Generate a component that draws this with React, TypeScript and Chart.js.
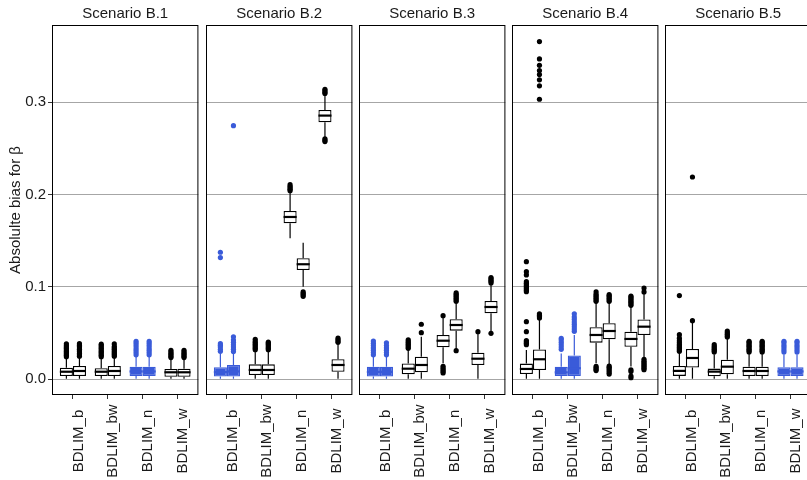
import React, { useEffect, useRef } from "react";
import { Chart, registerables } from "chart.js";

Chart.register(...registerables);

// ---- data -------------------------------------------------------------
const categories = ["BDLIM_b", "BDLIM_bw", "BDLIM_n", "BDLIM_w"];
const scenarioTitles = ["Scenario B.1", "Scenario B.2", "Scenario B.3", "Scenario B.4", "Scenario B.5"];
// model that generated the data in each scenario (drawn in blue)
const trueModel = ["BDLIM_n", "BDLIM_b", "BDLIM_b", "BDLIM_bw", "BDLIM_w"];
const yTicks = [0, 0.1, 0.2, 0.3];
const yTitle = "Absolulte bias for β";

// box statistics per category: [lower whisker, Q1, median, Q3, upper whisker]
// "_1" = first box of each dodged pair, "_2" = second box
const statsB1_1 = [
  [0.0005, 0.0036, 0.0082, 0.0126, 0.024],
  [0.0005, 0.0036, 0.0082, 0.0119, 0.024],
  [0.0005, 0.0036, 0.0085, 0.0136, 0.026],
  [0.0005, 0.0028, 0.0076, 0.0112, 0.022],
];
const statsB1_2 = [
  [0.0005, 0.0036, 0.009, 0.0144, 0.025],
  [0.0005, 0.0036, 0.009, 0.0144, 0.025],
  [0.0005, 0.0036, 0.0085, 0.0136, 0.026],
  [0.0005, 0.0028, 0.0076, 0.0114, 0.022],
];
const outB1_1 = [
  [0.0245, 0.026, 0.0275, 0.029, 0.0305, 0.032, 0.0335, 0.035, 0.0365, 0.0385],
  [0.0245, 0.026, 0.0275, 0.029, 0.0305, 0.032, 0.0335, 0.035, 0.0365, 0.038],
  [0.0265, 0.029, 0.0315, 0.034, 0.0365, 0.039, 0.0412],
  [0.0235, 0.025, 0.0265, 0.028, 0.0295, 0.0314],
];
const outB1_2 = [
  [0.025, 0.0265, 0.028, 0.0295, 0.031, 0.0325, 0.034, 0.0355, 0.037, 0.0386],
  [0.025, 0.0265, 0.028, 0.0295, 0.031, 0.0325, 0.034, 0.0355, 0.0383],
  [0.0265, 0.029, 0.0315, 0.034, 0.0365, 0.039, 0.0412],
  [0.0235, 0.025, 0.0265, 0.028, 0.0295, 0.0314],
];

const statsB2_1 = [
  [0.0005, 0.003, 0.0078, 0.013, 0.028],
  [0.0005, 0.0047, 0.0101, 0.0162, 0.0305],
  [0.1528, 0.169, 0.1758, 0.1824, 0.2025],
  [0.2625, 0.2784, 0.2856, 0.2917, 0.308],
];
const statsB2_2 = [
  [0.0005, 0.003, 0.0085, 0.0155, 0.028],
  [0.0005, 0.0047, 0.0101, 0.0162, 0.0305],
  [0.1003, 0.1184, 0.1246, 0.1311, 0.148],
  [0.0005, 0.0082, 0.0155, 0.0217, 0.038],
];
const outB2_1 = [
  [0.0303, 0.0325, 0.035, 0.0368, 0.0386, 0.1318, 0.1376],
  [0.032, 0.0335, 0.035, 0.0365, 0.038, 0.0395, 0.041, 0.0433],
  [0.2043, 0.2058, 0.2073, 0.2088, 0.2108],
  [0.2575, 0.259, 0.2605, 0.3095, 0.311, 0.3125, 0.3141],
];
const outB2_2 = [
  [0.030, 0.0325, 0.035, 0.0375, 0.040, 0.0425, 0.046, 0.2747],
  [0.032, 0.0335, 0.035, 0.0365, 0.038, 0.0393, 0.0404],
  [0.0899, 0.0915, 0.093, 0.0946],
  [0.040, 0.0415, 0.043, 0.0447],
];

const statsB3_1 = [
  [0.0005, 0.0029, 0.008, 0.0137, 0.025],
  [0.0005, 0.0054, 0.0115, 0.0171, 0.032],
  [0.0173, 0.0347, 0.0418, 0.048, 0.0675],
  [0.0005, 0.0155, 0.0223, 0.0288, 0.049],
];
const statsB3_2 = [
  [0.0005, 0.0029, 0.008, 0.0137, 0.025],
  [0.0005, 0.0076, 0.0155, 0.0245, 0.046],
  [0.0325, 0.0527, 0.0588, 0.065, 0.082],
  [0.051, 0.0715, 0.0783, 0.0848, 0.1025],
];
const outB3_1 = [
  [0.0265, 0.029, 0.0315, 0.034, 0.0365, 0.039, 0.0415],
  [0.0335, 0.035, 0.0365, 0.038, 0.0395, 0.041, 0.0428],
  [0.0068, 0.0085, 0.0102, 0.012, 0.0141, 0.0689],
  [0.0516],
];
const outB3_2 = [
  [0.0265, 0.029, 0.0315, 0.034, 0.0365, 0.0396],
  [0.0505, 0.0596],
  [0.031, 0.0845, 0.086, 0.0875, 0.089, 0.0905, 0.092, 0.0935],
  [0.0498, 0.1043, 0.1058, 0.1073, 0.1088, 0.1102],
];

const statsB4_1 = [
  [0.0005, 0.0057, 0.0112, 0.017, 0.0317],
  [0.0005, 0.0036, 0.0075, 0.0137, 0.028],
  [0.0173, 0.0397, 0.048, 0.0563, 0.083],
  [0.014, 0.0353, 0.0437, 0.0516, 0.0785],
];
const statsB4_2 = [
  [0.0005, 0.0101, 0.0217, 0.0322, 0.065],
  [0.0005, 0.0036, 0.012, 0.0257, 0.048],
  [0.0165, 0.0433, 0.0523, 0.0607, 0.083],
  [0.024, 0.048, 0.057, 0.0647, 0.093],
];
const outB4_1 = [
  [0.0375, 0.039, 0.0405, 0.042, 0.0516, 0.0624, 0.0949, 0.0965, 0.098, 0.0995, 0.101, 0.1025, 0.104, 0.1057, 0.113, 0.1166, 0.1274],
  [0.0325, 0.035, 0.0375, 0.04, 0.0425, 0.0444],
  [0.0095, 0.011, 0.0125, 0.014, 0.0845, 0.086, 0.0875, 0.089, 0.0905, 0.092, 0.0946],
  [0.0017, 0.0035, 0.0085, 0.0103, 0.0801, 0.0816, 0.0831, 0.0846, 0.0861, 0.0876, 0.0891, 0.0902],
];
const outB4_2 = [
  [0.0665, 0.068, 0.0695, 0.071, 0.3033, 0.3178, 0.3243, 0.33, 0.3343, 0.34, 0.347, 0.3658],
  [0.052, 0.0545, 0.057, 0.0595, 0.062, 0.0648, 0.0675, 0.071],
  [0.0057, 0.0075, 0.0095, 0.0115, 0.013, 0.0144, 0.0845, 0.086, 0.0875, 0.089, 0.0905, 0.0916],
  [0.0104, 0.012, 0.0135, 0.015, 0.0165, 0.018, 0.0195, 0.0217, 0.0946, 0.0989],
];

const statsB5_1 = [
  [0.0005, 0.0037, 0.0091, 0.0144, 0.029],
  [0.0005, 0.0033, 0.0083, 0.0116, 0.027],
  [0.0005, 0.0036, 0.009, 0.0137, 0.028],
  [0.0005, 0.0036, 0.0085, 0.013, 0.027],
];
const statsB5_2 = [
  [0.0005, 0.0127, 0.0231, 0.0328, 0.062],
  [0.0005, 0.0054, 0.0137, 0.0213, 0.0445],
  [0.0005, 0.0036, 0.009, 0.0137, 0.028],
  [0.0005, 0.0036, 0.0085, 0.013, 0.027],
];
const outB5_1 = [
  [0.0303, 0.0318, 0.0333, 0.0348, 0.0363, 0.0378, 0.0398, 0.0418, 0.0445, 0.0483, 0.0907],
  [0.0296, 0.031, 0.0325, 0.034, 0.0355, 0.0375],
  [0.0296, 0.031, 0.0325, 0.034, 0.0355, 0.037, 0.0385, 0.04, 0.0412],
  [0.0296, 0.032, 0.0345, 0.037, 0.0395, 0.0412],
];
const outB5_2 = [
  [0.0635, 0.2191],
  [0.0458, 0.0473, 0.0488, 0.0503, 0.0523],
  [0.0296, 0.031, 0.0325, 0.034, 0.0355, 0.037, 0.0385, 0.04, 0.0412],
  [0.0296, 0.032, 0.0345, 0.037, 0.0395, 0.0412],
];

const panelStats = [
  [statsB1_1, statsB1_2],
  [statsB2_1, statsB2_2],
  [statsB3_1, statsB3_2],
  [statsB4_1, statsB4_2],
  [statsB5_1, statsB5_2],
];
const panelOutliers = [
  [outB1_1, outB1_2],
  [outB2_1, outB2_2],
  [outB3_1, outB3_2],
  [outB4_1, outB4_2],
  [outB5_1, outB5_2],
];

// ---- styling ------------------------------------------------------------
const FONT = "'Liberation Sans', Arial, Helvetica, sans-serif";
const INK = "#000000";
const TEXT = "#1a1a1a";
const BLUE = "#3a5bd9";
const GRID = "#a6a6a6";
const BOX_WIDTH = 0.75; // fraction of a category occupied by the pair of boxes
const DODGE = BOX_WIDTH / 4; // centre offset of each box within the pair
const Y_MIN = -0.017;
const Y_MAX = 0.3837;
const PANEL_W = 147;
const PANEL_LEFTS = [52, 206, 359, 512, 665];
const AXIS_W = 52; // room for the y axis in the first panel
const EDGE = 4; // small margin left of the other panels
const X_AXIS_H = 85;
const LABEL_Y = 441;

Chart.defaults.font.family = FONT;

function makeBoxParts(p: number) {
  const stats = panelStats[p];
  const hl = trueModel[p];
  const lineColor = (i: number) => (categories[i] === hl ? BLUE : INK);
  return {
    id: "boxParts",
    beforeDatasetsDraw(chart: any) {
      const { ctx } = chart;
      const ys = chart.scales.y;
      stats.forEach((grp, d) => {
        const meta = chart.getDatasetMeta(d);
        grp.forEach((s, i) => {
          const bar = meta.data[i];
          ctx.save();
          ctx.strokeStyle = lineColor(i);
          ctx.lineWidth = 1.2;
          ctx.beginPath();
          ctx.moveTo(bar.x, ys.getPixelForValue(s[0]));
          ctx.lineTo(bar.x, ys.getPixelForValue(s[1]));
          ctx.moveTo(bar.x, ys.getPixelForValue(s[3]));
          ctx.lineTo(bar.x, ys.getPixelForValue(s[4]));
          ctx.stroke();
          ctx.restore();
        });
      });
    },
    afterDatasetsDraw(chart: any) {
      const { ctx } = chart;
      const ys = chart.scales.y;
      stats.forEach((grp, d) => {
        const meta = chart.getDatasetMeta(d);
        grp.forEach((s, i) => {
          const bar = meta.data[i];
          const y = ys.getPixelForValue(s[2]);
          ctx.save();
          ctx.strokeStyle = lineColor(i);
          ctx.lineWidth = 2.2;
          ctx.beginPath();
          ctx.moveTo(bar.x - bar.width / 2, y);
          ctx.lineTo(bar.x + bar.width / 2, y);
          ctx.stroke();
          ctx.restore();
        });
      });
    },
    afterDraw(chart: any) {
      const { ctx, chartArea: a } = chart;
      ctx.save();
      ctx.strokeStyle = INK;
      ctx.lineWidth = 1;
      ctx.strokeRect(a.left + 0.5, a.top + 0.5, a.right - a.left - 1, a.bottom - a.top - 1);
      // category labels, turned to read upwards
      const xs = chart.scales.x;
      ctx.font = `15px ${FONT}`;
      ctx.fillStyle = TEXT;
      ctx.textAlign = "center";
      ctx.textBaseline = "middle";
      xs.ticks.forEach((t: any) => {
        const px = xs.getPixelForValue(t.value);
        ctx.save();
        ctx.translate(px + 5.5, LABEL_Y);
        ctx.rotate(-Math.PI / 2);
        ctx.fillText(categories[t.value - 1], 0, 0);
        ctx.restore();
      });
      ctx.restore();
    },
  };
}

function buildConfig(p: number): any {
  const first = p === 0;
  const hl = trueModel[p];
  const lineColor = (i: number) => (categories[i] === hl ? BLUE : INK);
  const fillColor = (i: number) => (categories[i] === hl ? BLUE : "#ffffff");
  const stats = panelStats[p];
  const outs = panelOutliers[p];

  const boxes = stats.map((grp, g) => ({
    type: "bar",
    label: `box ${g + 1}`,
    data: grp.map((s, i) => ({ x: i + 1, y: [s[1], s[3]] })),
    backgroundColor: grp.map((_, i) => fillColor(i)),
    borderColor: grp.map((_, i) => lineColor(i)),
    borderWidth: 1.3,
    borderSkipped: false,
    categoryPercentage: BOX_WIDTH,
    barPercentage: 1,
  }));

  const points = outs.map((grp, g) => {
    const data: { x: number; y: number }[] = [];
    const colors: string[] = [];
    grp.forEach((list, i) =>
      list.forEach((v) => {
        data.push({ x: i + 1 + (g === 0 ? -DODGE : DODGE), y: v });
        colors.push(lineColor(i));
      })
    );
    return {
      type: "scatter",
      label: `outliers ${g + 1}`,
      data,
      pointBackgroundColor: colors,
      pointBorderWidth: 0,
      pointRadius: 2.6,
      pointHoverRadius: 2.6,
      showLine: false,
    };
  });

  return {
    type: "bar",
    data: { datasets: [...boxes, ...points] },
    plugins: [makeBoxParts(p)],
    options: {
      animation: false,
      responsive: false,
      devicePixelRatio: 1,
      events: [],
      layout: { padding: { left: 0, right: 2, top: 0, bottom: 0 } },
      plugins: {
        legend: { display: false },
        tooltip: { enabled: false },
        title: {
          display: true,
          text: scenarioTitles[p],
          fullSize: false,
          color: TEXT,
          font: { size: 15, weight: "normal", family: FONT },
          padding: { top: 5, bottom: 2 },
        },
      },
      scales: {
        x: {
          type: "linear",
          min: 0.4,
          max: 4.6,
          offset: false,
          afterBuildTicks: (s: any) => {
            s.ticks = categories.map((_, i) => ({ value: i + 1 }));
          },
          afterFit: (s: any) => {
            s.height = X_AXIS_H;
          },
          ticks: { display: false },
          grid: {
            offset: false,
            drawOnChartArea: false,
            drawTicks: true,
            tickLength: 4,
            color: "#333333",
            tickColor: "#333333",
          },
          border: { display: false },
        },
        y: {
          type: "linear",
          min: Y_MIN,
          max: Y_MAX,
          afterBuildTicks: (s: any) => {
            s.ticks = yTicks.map((v) => ({ value: v }));
          },
          afterFit: (s: any) => {
            s.width = first ? AXIS_W : EDGE;
          },
          ticks: {
            display: first,
            padding: 2,
            color: TEXT,
            font: { size: 15, family: FONT },
            callback: (v: any) => Number(v).toFixed(1),
          },
          grid: {
            color: GRID,
            lineWidth: 1,
            drawTicks: first,
            tickLength: 4,
            tickColor: "#333333",
          },
          border: { display: false },
          title: {
            display: first,
            text: yTitle,
            color: TEXT,
            font: { size: 15, family: FONT },
            padding: { top: 6.4, bottom: 0 },
          },
        },
      },
    },
  };
}

function Panel({ index }: { index: number }) {
  const ref = useRef<HTMLCanvasElement | null>(null);
  const first = index === 0;
  const left = first ? 0 : PANEL_LEFTS[index] - EDGE;
  const width = (first ? AXIS_W : EDGE) + PANEL_W + 2;
  useEffect(() => {
    if (!ref.current) return;
    const chart = new Chart(ref.current, buildConfig(index));
    return () => chart.destroy();
  }, [index]);
  return (
    <canvas
      ref={ref}
      width={width}
      height={480}
      style={{ position: "absolute", left, top: 0, width, height: 480 }}
    />
  );
}

export default function App() {
  return (
    <div
      style={{
        position: "fixed",
        left: 0,
        top: 0,
        width: 807,
        height: 480,
        overflow: "hidden",
        background: "#ffffff",
      }}
    >
      {scenarioTitles.map((_, i) => (
        <Panel key={i} index={i} />
      ))}
    </div>
  );
}
